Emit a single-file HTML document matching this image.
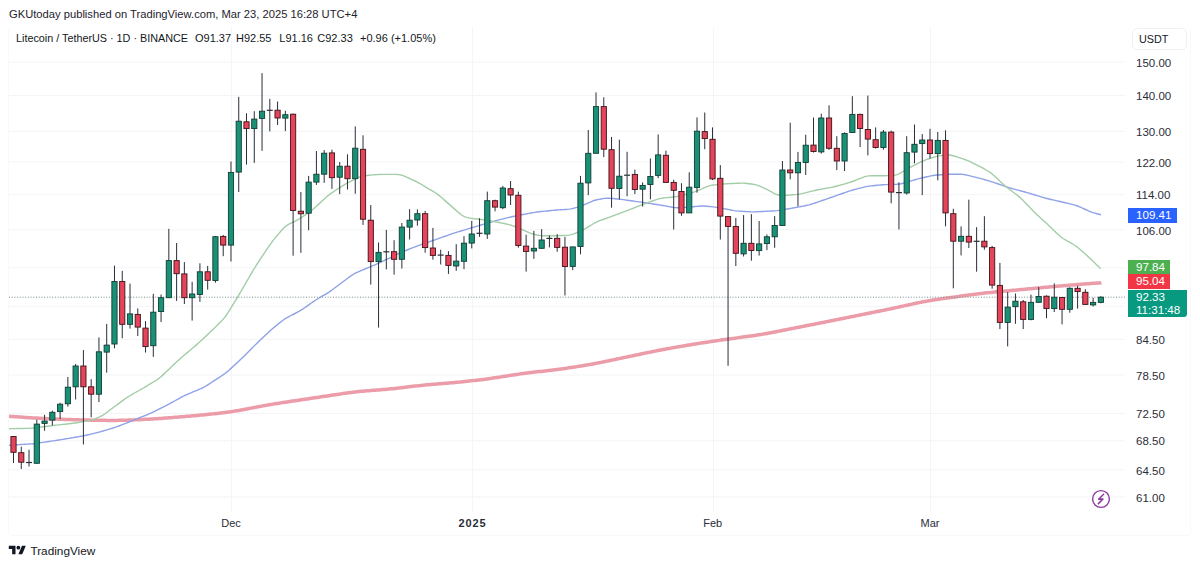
<!DOCTYPE html>
<html><head><meta charset="utf-8"><style>
html,body{margin:0;padding:0;background:#fff;width:1200px;height:566px;overflow:hidden}
body{position:relative;font-family:"Liberation Sans",sans-serif;color:#131722}
.hdr{position:absolute;left:9px;top:8px;font-size:11.2px;white-space:pre;color:#1e222d}
.leg{position:absolute;left:16px;top:31.7px;font-size:11px;white-space:pre;color:#131722}
.frame{position:absolute;left:8px;top:27px;width:1181px;height:507px;border:1px solid #f8f9fa;border-top-color:transparent;border-radius:4px}
.pl{position:absolute;left:1136px;font-size:11.5px;line-height:14px;color:#2a2e39}
.tl{position:absolute;top:516px;font-size:11px;line-height:14px;color:#2a2e39;transform:translateX(-50%)}
.box{position:absolute;left:1128px;color:#fff;font-size:11.6px;line-height:14px;padding-left:8px;box-sizing:border-box}
svg{position:absolute;left:0;top:0}
</style></head><body>
<div class="frame"></div>
<div class="hdr">GKUtoday published on TradingView.com, Mar 23, 2025 16:28 UTC+4</div>
<div class="leg" style="left:16px;font-size:10.8px">Litecoin / TetherUS · 1D · BINANCE</div><div class="leg" style="left:195px">O91.37</div><div class="leg" style="left:236px">H92.55</div><div class="leg" style="left:279.3px">L91.16</div><div class="leg" style="left:317.3px">C92.33</div><div class="leg" style="left:360px">+0.96 (+1.05%)</div>
<svg width="1200" height="566" viewBox="0 0 1200 566">

<line x1="9" y1="62.1" x2="1125" y2="62.1" stroke="#f3f4f6" stroke-width="1"/>
<line x1="9" y1="95.44" x2="1125" y2="95.44" stroke="#f3f4f6" stroke-width="1"/>
<line x1="9" y1="131.25" x2="1125" y2="131.25" stroke="#f3f4f6" stroke-width="1"/>
<line x1="9" y1="161.94" x2="1125" y2="161.94" stroke="#f3f4f6" stroke-width="1"/>
<line x1="9" y1="194.71" x2="1125" y2="194.71" stroke="#f3f4f6" stroke-width="1"/>
<line x1="9" y1="229.87" x2="1125" y2="229.87" stroke="#f3f4f6" stroke-width="1"/>
<line x1="9" y1="267.78" x2="1125" y2="267.78" stroke="#f3f4f6" stroke-width="1"/>
<line x1="9" y1="306.26" x2="1125" y2="306.26" stroke="#f3f4f6" stroke-width="1"/>
<line x1="9" y1="339.4" x2="1125" y2="339.4" stroke="#f3f4f6" stroke-width="1"/>
<line x1="9" y1="374.99" x2="1125" y2="374.99" stroke="#f3f4f6" stroke-width="1"/>
<line x1="9" y1="413.41" x2="1125" y2="413.41" stroke="#f3f4f6" stroke-width="1"/>
<line x1="9" y1="440.84" x2="1125" y2="440.84" stroke="#f3f4f6" stroke-width="1"/>
<line x1="9" y1="469.91" x2="1125" y2="469.91" stroke="#f3f4f6" stroke-width="1"/>
<line x1="9" y1="496.87" x2="1125" y2="496.87" stroke="#f3f4f6" stroke-width="1"/>
<line x1="231.5" y1="27" x2="231.5" y2="512" stroke="#f4f5f7" stroke-width="1"/>
<line x1="472.5" y1="27" x2="472.5" y2="512" stroke="#f4f5f7" stroke-width="1"/>
<line x1="713.5" y1="27" x2="713.5" y2="512" stroke="#f4f5f7" stroke-width="1"/>
<line x1="930.5" y1="27" x2="930.5" y2="512" stroke="#f4f5f7" stroke-width="1"/>
<path d="M9.0,416.30 L11.0,416.44 L13.0,416.57 L15.0,416.71 L17.0,416.84 L19.0,416.98 L21.0,417.11 L23.0,417.24 L25.0,417.38 L27.0,417.51 L29.0,417.64 L31.0,417.76 L33.0,417.89 L35.0,418.01 L37.0,418.12 L39.0,418.24 L41.0,418.34 L43.0,418.45 L45.0,418.55 L47.0,418.64 L49.0,418.73 L51.0,418.82 L53.0,418.91 L55.0,418.99 L57.0,419.07 L59.0,419.16 L61.0,419.24 L63.0,419.32 L65.0,419.39 L67.0,419.47 L69.0,419.54 L71.0,419.62 L73.0,419.68 L75.0,419.75 L77.0,419.81 L79.0,419.87 L81.0,419.93 L83.0,419.98 L85.0,420.03 L87.0,420.07 L89.0,420.11 L91.0,420.15 L93.0,420.18 L95.0,420.22 L97.0,420.25 L99.0,420.28 L101.0,420.31 L103.0,420.33 L105.0,420.36 L107.0,420.38 L109.0,420.39 L111.0,420.40 L113.0,420.40 L115.0,420.40 L117.0,420.38 L119.0,420.36 L121.0,420.32 L123.0,420.28 L125.0,420.22 L127.0,420.16 L129.0,420.09 L131.0,420.01 L133.0,419.92 L135.0,419.83 L137.0,419.74 L139.0,419.64 L141.0,419.54 L143.0,419.44 L145.0,419.34 L147.0,419.24 L149.0,419.13 L151.0,419.02 L153.0,418.90 L155.0,418.79 L157.0,418.66 L159.0,418.54 L161.0,418.40 L163.0,418.27 L165.0,418.12 L167.0,417.98 L169.0,417.83 L171.0,417.67 L173.0,417.51 L175.0,417.35 L177.0,417.19 L179.0,417.03 L181.0,416.86 L183.0,416.70 L185.0,416.53 L187.0,416.36 L189.0,416.19 L191.0,416.02 L193.0,415.84 L195.0,415.66 L197.0,415.48 L199.0,415.29 L201.0,415.10 L203.0,414.91 L205.0,414.71 L207.0,414.51 L209.0,414.30 L211.0,414.09 L213.0,413.88 L215.0,413.66 L217.0,413.44 L219.0,413.21 L221.0,412.98 L223.0,412.74 L225.0,412.49 L227.0,412.23 L229.0,411.96 L231.0,411.68 L233.0,411.38 L235.0,411.07 L237.0,410.74 L239.0,410.40 L241.0,410.04 L243.0,409.68 L245.0,409.30 L247.0,408.92 L249.0,408.54 L251.0,408.15 L253.0,407.76 L255.0,407.37 L257.0,406.99 L259.0,406.61 L261.0,406.23 L263.0,405.86 L265.0,405.50 L267.0,405.15 L269.0,404.80 L271.0,404.46 L273.0,404.13 L275.0,403.81 L277.0,403.49 L279.0,403.18 L281.0,402.87 L283.0,402.56 L285.0,402.26 L287.0,401.96 L289.0,401.65 L291.0,401.35 L293.0,401.05 L295.0,400.75 L297.0,400.45 L299.0,400.15 L301.0,399.85 L303.0,399.55 L305.0,399.25 L307.0,398.95 L309.0,398.65 L311.0,398.35 L313.0,398.05 L315.0,397.75 L317.0,397.45 L319.0,397.15 L321.0,396.85 L323.0,396.55 L325.0,396.25 L327.0,395.95 L329.0,395.65 L331.0,395.35 L333.0,395.05 L335.0,394.76 L337.0,394.46 L339.0,394.17 L341.0,393.88 L343.0,393.59 L345.0,393.30 L347.0,393.02 L349.0,392.75 L351.0,392.49 L353.0,392.24 L355.0,392.00 L357.0,391.77 L359.0,391.55 L361.0,391.35 L363.0,391.16 L365.0,390.98 L367.0,390.81 L369.0,390.65 L371.0,390.49 L373.0,390.34 L375.0,390.19 L377.0,390.04 L379.0,389.89 L381.0,389.74 L383.0,389.58 L385.0,389.41 L387.0,389.24 L389.0,389.06 L391.0,388.86 L393.0,388.66 L395.0,388.45 L397.0,388.23 L399.0,388.01 L401.0,387.77 L403.0,387.54 L405.0,387.30 L407.0,387.06 L409.0,386.81 L411.0,386.57 L413.0,386.34 L415.0,386.10 L417.0,385.88 L419.0,385.65 L421.0,385.44 L423.0,385.23 L425.0,385.04 L427.0,384.85 L429.0,384.66 L431.0,384.49 L433.0,384.32 L435.0,384.15 L437.0,383.99 L439.0,383.83 L441.0,383.67 L443.0,383.51 L445.0,383.36 L447.0,383.19 L449.0,383.03 L451.0,382.86 L453.0,382.68 L455.0,382.50 L457.0,382.32 L459.0,382.12 L461.0,381.92 L463.0,381.72 L465.0,381.51 L467.0,381.29 L469.0,381.07 L471.0,380.85 L473.0,380.62 L475.0,380.39 L477.0,380.16 L479.0,379.92 L481.0,379.68 L483.0,379.43 L485.0,379.18 L487.0,378.92 L489.0,378.65 L491.0,378.37 L493.0,378.09 L495.0,377.80 L497.0,377.50 L499.0,377.19 L501.0,376.89 L503.0,376.57 L505.0,376.26 L507.0,375.95 L509.0,375.63 L511.0,375.32 L513.0,375.01 L515.0,374.71 L517.0,374.41 L519.0,374.12 L521.0,373.83 L523.0,373.56 L525.0,373.29 L527.0,373.03 L529.0,372.78 L531.0,372.54 L533.0,372.30 L535.0,372.07 L537.0,371.84 L539.0,371.61 L541.0,371.39 L543.0,371.17 L545.0,370.94 L547.0,370.71 L549.0,370.48 L551.0,370.24 L553.0,370.00 L555.0,369.75 L557.0,369.49 L559.0,369.23 L561.0,368.96 L563.0,368.69 L565.0,368.41 L567.0,368.12 L569.0,367.83 L571.0,367.53 L573.0,367.23 L575.0,366.93 L577.0,366.62 L579.0,366.31 L581.0,365.99 L583.0,365.67 L585.0,365.33 L587.0,364.99 L589.0,364.64 L591.0,364.28 L593.0,363.91 L595.0,363.53 L597.0,363.15 L599.0,362.75 L601.0,362.35 L603.0,361.95 L605.0,361.54 L607.0,361.12 L609.0,360.71 L611.0,360.29 L613.0,359.87 L615.0,359.45 L617.0,359.03 L619.0,358.61 L621.0,358.20 L623.0,357.78 L625.0,357.36 L627.0,356.94 L629.0,356.52 L631.0,356.10 L633.0,355.68 L635.0,355.26 L637.0,354.84 L639.0,354.42 L641.0,354.00 L643.0,353.58 L645.0,353.16 L647.0,352.75 L649.0,352.34 L651.0,351.93 L653.0,351.52 L655.0,351.12 L657.0,350.73 L659.0,350.34 L661.0,349.95 L663.0,349.57 L665.0,349.20 L667.0,348.83 L669.0,348.47 L671.0,348.11 L673.0,347.75 L675.0,347.40 L677.0,347.05 L679.0,346.70 L681.0,346.36 L683.0,346.01 L685.0,345.67 L687.0,345.34 L689.0,345.00 L691.0,344.67 L693.0,344.35 L695.0,344.02 L697.0,343.70 L699.0,343.39 L701.0,343.08 L703.0,342.77 L705.0,342.46 L707.0,342.16 L709.0,341.86 L711.0,341.56 L713.0,341.26 L715.0,340.96 L717.0,340.67 L719.0,340.38 L721.0,340.09 L723.0,339.80 L725.0,339.52 L727.0,339.24 L729.0,338.96 L731.0,338.69 L733.0,338.42 L735.0,338.15 L737.0,337.88 L739.0,337.62 L741.0,337.35 L743.0,337.09 L745.0,336.82 L747.0,336.55 L749.0,336.27 L751.0,335.99 L753.0,335.71 L755.0,335.41 L757.0,335.10 L759.0,334.79 L761.0,334.46 L763.0,334.12 L765.0,333.77 L767.0,333.42 L769.0,333.05 L771.0,332.67 L773.0,332.29 L775.0,331.91 L777.0,331.52 L779.0,331.13 L781.0,330.73 L783.0,330.34 L785.0,329.94 L787.0,329.55 L789.0,329.15 L791.0,328.76 L793.0,328.36 L795.0,327.97 L797.0,327.57 L799.0,327.17 L801.0,326.78 L803.0,326.38 L805.0,325.99 L807.0,325.59 L809.0,325.20 L811.0,324.80 L813.0,324.41 L815.0,324.01 L817.0,323.61 L819.0,323.22 L821.0,322.82 L823.0,322.42 L825.0,322.02 L827.0,321.63 L829.0,321.23 L831.0,320.83 L833.0,320.43 L835.0,320.03 L837.0,319.62 L839.0,319.22 L841.0,318.82 L843.0,318.42 L845.0,318.02 L847.0,317.62 L849.0,317.21 L851.0,316.81 L853.0,316.41 L855.0,316.01 L857.0,315.60 L859.0,315.20 L861.0,314.80 L863.0,314.40 L865.0,313.99 L867.0,313.59 L869.0,313.19 L871.0,312.79 L873.0,312.38 L875.0,311.98 L877.0,311.57 L879.0,311.17 L881.0,310.76 L883.0,310.35 L885.0,309.94 L887.0,309.53 L889.0,309.11 L891.0,308.69 L893.0,308.27 L895.0,307.84 L897.0,307.41 L899.0,306.98 L901.0,306.54 L903.0,306.10 L905.0,305.66 L907.0,305.22 L909.0,304.78 L911.0,304.34 L913.0,303.91 L915.0,303.48 L917.0,303.05 L919.0,302.64 L921.0,302.24 L923.0,301.84 L925.0,301.47 L927.0,301.10 L929.0,300.75 L931.0,300.41 L933.0,300.09 L935.0,299.78 L937.0,299.48 L939.0,299.18 L941.0,298.89 L943.0,298.61 L945.0,298.33 L947.0,298.05 L949.0,297.78 L951.0,297.50 L953.0,297.22 L955.0,296.94 L957.0,296.66 L959.0,296.37 L961.0,296.09 L963.0,295.80 L965.0,295.52 L967.0,295.24 L969.0,294.96 L971.0,294.69 L973.0,294.42 L975.0,294.17 L977.0,293.92 L979.0,293.68 L981.0,293.45 L983.0,293.23 L985.0,293.02 L987.0,292.82 L989.0,292.62 L991.0,292.43 L993.0,292.24 L995.0,292.05 L997.0,291.86 L999.0,291.67 L1001.0,291.49 L1003.0,291.30 L1005.0,291.11 L1007.0,290.92 L1009.0,290.73 L1011.0,290.54 L1013.0,290.35 L1015.0,290.16 L1017.0,289.97 L1019.0,289.77 L1021.0,289.58 L1023.0,289.39 L1025.0,289.20 L1027.0,289.01 L1029.0,288.82 L1031.0,288.64 L1033.0,288.45 L1035.0,288.27 L1037.0,288.08 L1039.0,287.90 L1041.0,287.72 L1043.0,287.54 L1045.0,287.36 L1047.0,287.18 L1049.0,287.00 L1051.0,286.82 L1053.0,286.64 L1055.0,286.46 L1057.0,286.29 L1059.0,286.11 L1061.0,285.94 L1063.0,285.76 L1065.0,285.59 L1067.0,285.41 L1069.0,285.24 L1071.0,285.07 L1073.0,284.90 L1075.0,284.73 L1077.0,284.57 L1079.0,284.40 L1081.0,284.24 L1083.0,284.09 L1085.0,283.93 L1087.0,283.78 L1089.0,283.63 L1091.0,283.49 L1093.0,283.35 L1095.0,283.22 L1097.0,283.08 L1099.0,282.95 L1101.0,282.83 L1101.3,282.70" fill="none" stroke="#eb9ca8" stroke-width="3.5" stroke-linejoin="round" stroke-linecap="butt"/>
<path d="M9.0,445.30 L11.0,445.16 L13.0,445.01 L15.0,444.87 L17.0,444.73 L19.0,444.60 L21.0,444.48 L23.0,444.36 L25.0,444.24 L27.0,444.12 L29.0,444.00 L31.0,443.87 L33.0,443.71 L35.0,443.50 L37.0,443.24 L39.0,442.96 L41.0,442.66 L43.0,442.37 L45.0,442.07 L47.0,441.78 L49.0,441.48 L51.0,441.18 L53.0,440.89 L55.0,440.59 L57.0,440.29 L59.0,439.98 L61.0,439.66 L63.0,439.33 L65.0,438.99 L67.0,438.66 L69.0,438.32 L71.0,437.98 L73.0,437.65 L75.0,437.31 L77.0,436.98 L79.0,436.64 L81.0,436.29 L83.0,435.92 L85.0,435.51 L87.0,435.05 L89.0,434.57 L91.0,434.08 L93.0,433.59 L95.0,433.10 L97.0,432.60 L99.0,432.10 L101.0,431.56 L103.0,431.00 L105.0,430.40 L107.0,429.80 L109.0,429.20 L111.0,428.60 L113.0,427.99 L115.0,427.37 L117.0,426.71 L119.0,425.98 L121.0,425.21 L123.0,424.41 L125.0,423.61 L127.0,422.81 L129.0,422.01 L131.0,421.20 L133.0,420.40 L135.0,419.60 L137.0,418.80 L139.0,417.99 L141.0,417.19 L143.0,416.39 L145.0,415.59 L147.0,414.78 L149.0,413.95 L151.0,413.07 L153.0,412.13 L155.0,411.15 L157.0,410.15 L159.0,409.15 L161.0,408.15 L163.0,407.15 L165.0,406.14 L167.0,405.11 L169.0,404.05 L171.0,402.96 L173.0,401.86 L175.0,400.76 L177.0,399.66 L179.0,398.56 L181.0,397.47 L183.0,396.43 L185.0,395.45 L187.0,394.54 L189.0,393.68 L191.0,392.83 L193.0,391.97 L195.0,391.13 L197.0,390.28 L199.0,389.42 L201.0,388.54 L203.0,387.59 L205.0,386.52 L207.0,385.32 L209.0,384.05 L211.0,382.75 L213.0,381.45 L215.0,380.15 L217.0,378.85 L219.0,377.55 L221.0,376.25 L223.0,374.91 L225.0,373.49 L227.0,371.92 L229.0,370.19 L231.0,368.38 L233.0,366.54 L235.0,364.69 L237.0,362.84 L239.0,360.98 L241.0,359.09 L243.0,357.15 L245.0,355.17 L247.0,353.17 L249.0,351.16 L251.0,349.14 L253.0,347.13 L255.0,345.13 L257.0,343.14 L259.0,341.20 L261.0,339.29 L263.0,337.42 L265.0,335.55 L267.0,333.69 L269.0,331.84 L271.0,330.04 L273.0,328.30 L275.0,326.63 L277.0,325.00 L279.0,323.37 L281.0,321.76 L283.0,320.20 L285.0,318.79 L287.0,317.58 L289.0,316.51 L291.0,315.50 L293.0,314.50 L295.0,313.50 L297.0,312.47 L299.0,311.38 L301.0,310.18 L303.0,308.87 L305.0,307.49 L307.0,306.10 L309.0,304.69 L311.0,303.29 L313.0,301.90 L315.0,300.54 L317.0,299.23 L319.0,298.01 L321.0,296.84 L323.0,295.68 L325.0,294.53 L327.0,293.34 L329.0,292.07 L331.0,290.69 L333.0,289.22 L335.0,287.73 L337.0,286.23 L339.0,284.74 L341.0,283.24 L343.0,281.74 L345.0,280.24 L347.0,278.74 L349.0,277.25 L351.0,275.81 L353.0,274.49 L355.0,273.36 L357.0,272.40 L359.0,271.53 L361.0,270.68 L363.0,269.84 L365.0,269.00 L367.0,268.16 L369.0,267.32 L371.0,266.47 L373.0,265.63 L375.0,264.78 L377.0,263.92 L379.0,263.02 L381.0,262.09 L383.0,261.14 L385.0,260.19 L387.0,259.23 L389.0,258.27 L391.0,257.31 L393.0,256.35 L395.0,255.39 L397.0,254.43 L399.0,253.47 L401.0,252.53 L403.0,251.63 L405.0,250.80 L407.0,250.00 L409.0,249.23 L411.0,248.46 L413.0,247.69 L415.0,246.92 L417.0,246.16 L419.0,245.41 L421.0,244.67 L423.0,243.96 L425.0,243.26 L427.0,242.57 L429.0,241.87 L431.0,241.18 L433.0,240.48 L435.0,239.79 L437.0,239.09 L439.0,238.38 L441.0,237.67 L443.0,236.96 L445.0,236.25 L447.0,235.54 L449.0,234.83 L451.0,234.13 L453.0,233.45 L455.0,232.81 L457.0,232.20 L459.0,231.59 L461.0,230.99 L463.0,230.40 L465.0,229.80 L467.0,229.20 L469.0,228.60 L471.0,228.00 L473.0,227.40 L475.0,226.80 L477.0,226.20 L479.0,225.61 L481.0,225.01 L483.0,224.41 L485.0,223.82 L487.0,223.24 L489.0,222.67 L491.0,222.11 L493.0,221.55 L495.0,221.00 L497.0,220.45 L499.0,219.89 L501.0,219.35 L503.0,218.83 L505.0,218.34 L507.0,217.88 L509.0,217.44 L511.0,216.99 L513.0,216.55 L515.0,216.11 L517.0,215.67 L519.0,215.25 L521.0,214.85 L523.0,214.47 L525.0,214.10 L527.0,213.74 L529.0,213.38 L531.0,213.02 L533.0,212.67 L535.0,212.33 L537.0,212.03 L539.0,211.78 L541.0,211.56 L543.0,211.35 L545.0,211.15 L547.0,210.95 L549.0,210.74 L551.0,210.54 L553.0,210.36 L555.0,210.20 L557.0,210.06 L559.0,209.92 L561.0,209.79 L563.0,209.66 L565.0,209.53 L567.0,209.37 L569.0,209.16 L571.0,208.84 L573.0,208.42 L575.0,207.94 L577.0,207.42 L579.0,206.83 L581.0,206.14 L583.0,205.33 L585.0,204.46 L587.0,203.57 L589.0,202.68 L591.0,201.80 L593.0,200.96 L595.0,200.26 L597.0,199.73 L599.0,199.33 L601.0,198.98 L603.0,198.65 L605.0,198.38 L607.0,198.24 L609.0,198.26 L611.0,198.40 L613.0,198.57 L615.0,198.75 L617.0,198.94 L619.0,199.14 L621.0,199.37 L623.0,199.63 L625.0,199.91 L627.0,200.19 L629.0,200.47 L631.0,200.76 L633.0,201.04 L635.0,201.32 L637.0,201.61 L639.0,201.89 L641.0,202.18 L643.0,202.46 L645.0,202.76 L647.0,203.05 L649.0,203.35 L651.0,203.65 L653.0,203.95 L655.0,204.25 L657.0,204.56 L659.0,204.87 L661.0,205.20 L663.0,205.54 L665.0,205.90 L667.0,206.26 L669.0,206.62 L671.0,206.97 L673.0,207.32 L675.0,207.60 L677.0,207.76 L679.0,207.76 L681.0,207.66 L683.0,207.51 L685.0,207.35 L687.0,207.19 L689.0,207.04 L691.0,206.88 L693.0,206.71 L695.0,206.54 L697.0,206.37 L699.0,206.19 L701.0,206.05 L703.0,206.00 L705.0,206.06 L707.0,206.23 L709.0,206.45 L711.0,206.67 L713.0,206.90 L715.0,207.14 L717.0,207.39 L719.0,207.70 L721.0,208.05 L723.0,208.43 L725.0,208.82 L727.0,209.22 L729.0,209.61 L731.0,210.01 L733.0,210.37 L735.0,210.68 L737.0,210.91 L739.0,211.08 L741.0,211.23 L743.0,211.37 L745.0,211.52 L747.0,211.66 L749.0,211.78 L751.0,211.87 L753.0,211.88 L755.0,211.83 L757.0,211.74 L759.0,211.65 L761.0,211.55 L763.0,211.46 L765.0,211.36 L767.0,211.27 L769.0,211.17 L771.0,211.07 L773.0,210.97 L775.0,210.84 L777.0,210.65 L779.0,210.39 L781.0,210.07 L783.0,209.74 L785.0,209.40 L787.0,209.06 L789.0,208.72 L791.0,208.38 L793.0,208.03 L795.0,207.65 L797.0,207.27 L799.0,206.87 L801.0,206.48 L803.0,206.08 L805.0,205.69 L807.0,205.27 L809.0,204.81 L811.0,204.27 L813.0,203.65 L815.0,202.98 L817.0,202.30 L819.0,201.61 L821.0,200.92 L823.0,200.24 L825.0,199.55 L827.0,198.86 L829.0,198.18 L831.0,197.49 L833.0,196.79 L835.0,196.10 L837.0,195.39 L839.0,194.69 L841.0,193.98 L843.0,193.27 L845.0,192.57 L847.0,191.87 L849.0,191.20 L851.0,190.58 L853.0,190.00 L855.0,189.45 L857.0,188.91 L859.0,188.37 L861.0,187.84 L863.0,187.31 L865.0,186.82 L867.0,186.41 L869.0,186.12 L871.0,185.89 L873.0,185.69 L875.0,185.50 L877.0,185.31 L879.0,185.12 L881.0,184.94 L883.0,184.78 L885.0,184.67 L887.0,184.59 L889.0,184.53 L891.0,184.47 L893.0,184.41 L895.0,184.34 L897.0,184.25 L899.0,184.07 L901.0,183.74 L903.0,183.26 L905.0,182.70 L907.0,182.10 L909.0,181.51 L911.0,180.91 L913.0,180.31 L915.0,179.73 L917.0,179.18 L919.0,178.67 L921.0,178.19 L923.0,177.72 L925.0,177.25 L927.0,176.78 L929.0,176.32 L931.0,175.88 L933.0,175.51 L935.0,175.25 L937.0,175.07 L939.0,174.93 L941.0,174.79 L943.0,174.66 L945.0,174.53 L947.0,174.41 L949.0,174.30 L951.0,174.24 L953.0,174.21 L955.0,174.20 L957.0,174.20 L959.0,174.21 L961.0,174.25 L963.0,174.41 L965.0,174.71 L967.0,175.14 L969.0,175.63 L971.0,176.12 L973.0,176.62 L975.0,177.13 L977.0,177.62 L979.0,178.13 L981.0,178.64 L983.0,179.17 L985.0,179.74 L987.0,180.34 L989.0,180.95 L991.0,181.57 L993.0,182.20 L995.0,182.84 L997.0,183.52 L999.0,184.22 L1001.0,184.93 L1003.0,185.64 L1005.0,186.35 L1007.0,187.03 L1009.0,187.67 L1011.0,188.25 L1013.0,188.81 L1015.0,189.35 L1017.0,189.88 L1019.0,190.42 L1021.0,190.96 L1023.0,191.50 L1025.0,192.04 L1027.0,192.60 L1029.0,193.18 L1031.0,193.78 L1033.0,194.39 L1035.0,194.99 L1037.0,195.60 L1039.0,196.20 L1041.0,196.81 L1043.0,197.40 L1045.0,197.97 L1047.0,198.49 L1049.0,198.98 L1051.0,199.45 L1053.0,199.91 L1055.0,200.37 L1057.0,200.84 L1059.0,201.30 L1061.0,201.76 L1063.0,202.23 L1065.0,202.70 L1067.0,203.17 L1069.0,203.64 L1071.0,204.12 L1073.0,204.61 L1075.0,205.13 L1077.0,205.75 L1079.0,206.52 L1081.0,207.39 L1083.0,208.32 L1085.0,209.25 L1087.0,210.19 L1089.0,211.09 L1091.0,211.91 L1093.0,212.61 L1095.0,213.20 L1097.0,213.75 L1099.0,214.27 L1101.0,214.80" fill="none" stroke="#8ea2e8" stroke-width="1.4" stroke-linejoin="round"/>
<path d="M9.0,428.70 L11.0,428.66 L13.0,428.63 L15.0,428.59 L17.0,428.55 L19.0,428.52 L21.0,428.48 L23.0,428.44 L25.0,428.40 L27.0,428.36 L29.0,428.29 L31.0,428.17 L33.0,427.99 L35.0,427.76 L37.0,427.51 L39.0,427.26 L41.0,427.01 L43.0,426.76 L45.0,426.51 L47.0,426.26 L49.0,426.02 L51.0,425.78 L53.0,425.55 L55.0,425.32 L57.0,425.09 L59.0,424.87 L61.0,424.65 L63.0,424.42 L65.0,424.20 L67.0,423.97 L69.0,423.75 L71.0,423.52 L73.0,423.29 L75.0,423.03 L77.0,422.73 L79.0,422.40 L81.0,422.04 L83.0,421.68 L85.0,421.32 L87.0,420.95 L89.0,420.57 L91.0,420.12 L93.0,419.54 L95.0,418.82 L97.0,418.02 L99.0,417.15 L101.0,416.18 L103.0,415.05 L105.0,413.72 L107.0,412.27 L109.0,410.78 L111.0,409.28 L113.0,407.79 L115.0,406.31 L117.0,404.83 L119.0,403.35 L121.0,401.87 L123.0,400.40 L125.0,398.94 L127.0,397.54 L129.0,396.24 L131.0,395.04 L133.0,393.89 L135.0,392.76 L137.0,391.64 L139.0,390.51 L141.0,389.38 L143.0,388.24 L145.0,387.07 L147.0,385.88 L149.0,384.67 L151.0,383.46 L153.0,382.25 L155.0,381.03 L157.0,379.75 L159.0,378.32 L161.0,376.67 L163.0,374.86 L165.0,372.97 L167.0,371.06 L169.0,369.15 L171.0,367.25 L173.0,365.34 L175.0,363.44 L177.0,361.57 L179.0,359.75 L181.0,357.99 L183.0,356.28 L185.0,354.58 L187.0,352.89 L189.0,351.20 L191.0,349.51 L193.0,347.81 L195.0,346.11 L197.0,344.38 L199.0,342.59 L201.0,340.75 L203.0,338.88 L205.0,337.00 L207.0,335.12 L209.0,333.23 L211.0,331.34 L213.0,329.42 L215.0,327.47 L217.0,325.49 L219.0,323.50 L221.0,321.48 L223.0,319.37 L225.0,316.99 L227.0,314.24 L229.0,311.18 L231.0,307.97 L233.0,304.71 L235.0,301.39 L237.0,298.05 L239.0,294.69 L241.0,291.30 L243.0,287.89 L245.0,284.44 L247.0,280.97 L249.0,277.50 L251.0,274.04 L253.0,270.63 L255.0,267.34 L257.0,264.19 L259.0,261.14 L261.0,258.13 L263.0,255.13 L265.0,252.12 L267.0,249.12 L269.0,246.16 L271.0,243.30 L273.0,240.62 L275.0,238.12 L277.0,235.72 L279.0,233.36 L281.0,231.03 L283.0,228.79 L285.0,226.83 L287.0,225.30 L289.0,224.14 L291.0,223.17 L293.0,222.25 L295.0,221.29 L297.0,220.22 L299.0,219.03 L301.0,217.74 L303.0,216.41 L305.0,215.09 L307.0,213.75 L309.0,212.38 L311.0,210.91 L313.0,209.29 L315.0,207.53 L317.0,205.70 L319.0,203.86 L321.0,202.01 L323.0,200.16 L325.0,198.32 L327.0,196.54 L329.0,194.88 L331.0,193.41 L333.0,192.06 L335.0,190.75 L337.0,189.46 L339.0,188.16 L341.0,186.87 L343.0,185.59 L345.0,184.35 L347.0,183.20 L349.0,182.12 L351.0,181.10 L353.0,180.10 L355.0,179.10 L357.0,178.11 L359.0,177.20 L361.0,176.47 L363.0,176.00 L365.0,175.72 L367.0,175.51 L369.0,175.31 L371.0,175.12 L373.0,174.92 L375.0,174.74 L377.0,174.58 L379.0,174.47 L381.0,174.42 L383.0,174.40 L385.0,174.40 L387.0,174.40 L389.0,174.40 L391.0,174.40 L393.0,174.40 L395.0,174.40 L397.0,174.44 L399.0,174.58 L401.0,174.95 L403.0,175.59 L405.0,176.42 L407.0,177.32 L409.0,178.24 L411.0,179.15 L413.0,180.07 L415.0,181.00 L417.0,181.99 L419.0,183.06 L421.0,184.22 L423.0,185.42 L425.0,186.64 L427.0,187.85 L429.0,189.04 L431.0,190.20 L433.0,191.32 L435.0,192.51 L437.0,193.85 L439.0,195.40 L441.0,197.09 L443.0,198.84 L445.0,200.60 L447.0,202.36 L449.0,204.12 L451.0,205.88 L453.0,207.64 L455.0,209.40 L457.0,211.16 L459.0,212.90 L461.0,214.53 L463.0,215.87 L465.0,216.80 L467.0,217.39 L469.0,217.83 L471.0,218.22 L473.0,218.56 L475.0,218.83 L477.0,219.06 L479.0,219.27 L481.0,219.49 L483.0,219.73 L485.0,220.02 L487.0,220.34 L489.0,220.68 L491.0,221.02 L493.0,221.37 L495.0,221.72 L497.0,222.09 L499.0,222.47 L501.0,222.87 L503.0,223.28 L505.0,223.69 L507.0,224.11 L509.0,224.59 L511.0,225.15 L513.0,225.80 L515.0,226.51 L517.0,227.24 L519.0,228.02 L521.0,228.88 L523.0,229.82 L525.0,230.80 L527.0,231.76 L529.0,232.65 L531.0,233.40 L533.0,234.01 L535.0,234.54 L537.0,235.01 L539.0,235.40 L541.0,235.65 L543.0,235.76 L545.0,235.80 L547.0,235.80 L549.0,235.80 L551.0,235.79 L553.0,235.78 L555.0,235.74 L557.0,235.69 L559.0,235.63 L561.0,235.57 L563.0,235.51 L565.0,235.44 L567.0,235.34 L569.0,235.11 L571.0,234.68 L573.0,234.05 L575.0,233.30 L577.0,232.51 L579.0,231.71 L581.0,230.87 L583.0,229.94 L585.0,228.87 L587.0,227.69 L589.0,226.47 L591.0,225.23 L593.0,224.01 L595.0,222.85 L597.0,221.81 L599.0,220.95 L601.0,220.19 L603.0,219.47 L605.0,218.77 L607.0,218.06 L609.0,217.34 L611.0,216.62 L613.0,215.88 L615.0,215.14 L617.0,214.40 L619.0,213.66 L621.0,212.92 L623.0,212.17 L625.0,211.42 L627.0,210.66 L629.0,209.88 L631.0,209.09 L633.0,208.30 L635.0,207.50 L637.0,206.70 L639.0,205.91 L641.0,205.12 L643.0,204.36 L645.0,203.61 L647.0,202.90 L649.0,202.19 L651.0,201.48 L653.0,200.77 L655.0,200.07 L657.0,199.40 L659.0,198.81 L661.0,198.36 L663.0,198.05 L665.0,197.83 L667.0,197.63 L669.0,197.44 L671.0,197.25 L673.0,197.04 L675.0,196.81 L677.0,196.49 L679.0,196.08 L681.0,195.61 L683.0,195.11 L685.0,194.60 L687.0,194.09 L689.0,193.58 L691.0,193.04 L693.0,192.43 L695.0,191.70 L697.0,190.89 L699.0,190.04 L701.0,189.18 L703.0,188.32 L705.0,187.46 L707.0,186.64 L709.0,185.93 L711.0,185.40 L713.0,185.06 L715.0,184.83 L717.0,184.63 L719.0,184.44 L721.0,184.25 L723.0,184.06 L725.0,183.88 L727.0,183.73 L729.0,183.61 L731.0,183.52 L733.0,183.43 L735.0,183.35 L737.0,183.27 L739.0,183.19 L741.0,183.13 L743.0,183.15 L745.0,183.28 L747.0,183.48 L749.0,183.72 L751.0,183.98 L753.0,184.25 L755.0,184.60 L757.0,185.11 L759.0,185.82 L761.0,186.67 L763.0,187.58 L765.0,188.51 L767.0,189.47 L769.0,190.51 L771.0,191.63 L773.0,192.76 L775.0,193.79 L777.0,194.54 L779.0,194.95 L781.0,195.11 L783.0,195.18 L785.0,195.21 L787.0,195.18 L789.0,195.09 L791.0,194.94 L793.0,194.78 L795.0,194.61 L797.0,194.42 L799.0,194.18 L801.0,193.85 L803.0,193.42 L805.0,192.94 L807.0,192.44 L809.0,191.94 L811.0,191.43 L813.0,190.94 L815.0,190.45 L817.0,190.00 L819.0,189.60 L821.0,189.23 L823.0,188.86 L825.0,188.50 L827.0,188.14 L829.0,187.77 L831.0,187.40 L833.0,186.98 L835.0,186.51 L837.0,186.00 L839.0,185.46 L841.0,184.93 L843.0,184.39 L845.0,183.84 L847.0,183.29 L849.0,182.69 L851.0,182.02 L853.0,181.28 L855.0,180.49 L857.0,179.69 L859.0,178.89 L861.0,178.09 L863.0,177.31 L865.0,176.62 L867.0,176.13 L869.0,175.89 L871.0,175.81 L873.0,175.80 L875.0,175.80 L877.0,175.80 L879.0,175.80 L881.0,175.79 L883.0,175.77 L885.0,175.72 L887.0,175.66 L889.0,175.59 L891.0,175.51 L893.0,175.40 L895.0,175.16 L897.0,174.65 L899.0,173.79 L901.0,172.69 L903.0,171.50 L905.0,170.30 L907.0,169.14 L909.0,168.03 L911.0,166.98 L913.0,165.97 L915.0,164.97 L917.0,163.98 L919.0,162.98 L921.0,161.99 L923.0,161.04 L925.0,160.17 L927.0,159.41 L929.0,158.74 L931.0,158.11 L933.0,157.48 L935.0,156.87 L937.0,156.32 L939.0,155.89 L941.0,155.59 L943.0,155.36 L945.0,155.18 L947.0,155.04 L949.0,155.04 L951.0,155.26 L953.0,155.71 L955.0,156.29 L957.0,156.92 L959.0,157.56 L961.0,158.19 L963.0,158.84 L965.0,159.52 L967.0,160.30 L969.0,161.19 L971.0,162.16 L973.0,163.15 L975.0,164.15 L977.0,165.15 L979.0,166.15 L981.0,167.17 L983.0,168.23 L985.0,169.35 L987.0,170.52 L989.0,171.76 L991.0,173.12 L993.0,174.68 L995.0,176.43 L997.0,178.31 L999.0,180.23 L1001.0,182.14 L1003.0,184.00 L1005.0,185.77 L1007.0,187.40 L1009.0,188.94 L1011.0,190.45 L1013.0,191.95 L1015.0,193.46 L1017.0,194.99 L1019.0,196.62 L1021.0,198.42 L1023.0,200.37 L1025.0,202.43 L1027.0,204.51 L1029.0,206.60 L1031.0,208.68 L1033.0,210.75 L1035.0,212.77 L1037.0,214.72 L1039.0,216.59 L1041.0,218.42 L1043.0,220.23 L1045.0,222.04 L1047.0,223.85 L1049.0,225.68 L1051.0,227.54 L1053.0,229.45 L1055.0,231.41 L1057.0,233.39 L1059.0,235.30 L1061.0,237.03 L1063.0,238.48 L1065.0,239.71 L1067.0,240.85 L1069.0,241.95 L1071.0,243.07 L1073.0,244.22 L1075.0,245.49 L1077.0,246.94 L1079.0,248.54 L1081.0,250.23 L1083.0,251.95 L1085.0,253.70 L1087.0,255.52 L1089.0,257.41 L1091.0,259.37 L1093.0,261.35 L1095.0,263.33 L1097.0,265.26 L1099.0,267.09 L1100.5,268.80" fill="none" stroke="#a3cda7" stroke-width="1.4" stroke-linejoin="round"/>
<line x1="9" y1="297.2" x2="1125" y2="297.2" stroke="#76908a" stroke-width="1" stroke-dasharray="1,1.7"/>
<line x1="13.50" y1="436.0" x2="13.50" y2="463.0" stroke="#2a2e39" stroke-width="1"/>
<rect x="10.90" y="436.5" width="5.2" height="15.8" fill="#e5445a" stroke="#3d1218" stroke-width="0.9"/>
<line x1="21.27" y1="446.7" x2="21.27" y2="469.0" stroke="#2a2e39" stroke-width="1"/>
<rect x="18.67" y="452.7" width="5.2" height="9.5" fill="#e5445a" stroke="#3d1218" stroke-width="0.9"/>
<line x1="29.03" y1="449.7" x2="29.03" y2="466.5" stroke="#2a2e39" stroke-width="1"/>
<rect x="26.03" y="461.9" width="6" height="1.2" fill="#2a2e39"/>
<line x1="36.80" y1="419.7" x2="36.80" y2="463.3" stroke="#2a2e39" stroke-width="1"/>
<rect x="34.20" y="424.1" width="5.2" height="39.2" fill="#1a9176" stroke="#0f3d33" stroke-width="0.9"/>
<line x1="44.57" y1="414.8" x2="44.57" y2="430.8" stroke="#2a2e39" stroke-width="1"/>
<rect x="41.97" y="421.1" width="5.2" height="2.3" fill="#1a9176" stroke="#0f3d33" stroke-width="0.9"/>
<line x1="52.34" y1="410.6" x2="52.34" y2="425.4" stroke="#2a2e39" stroke-width="1"/>
<rect x="49.73" y="412.3" width="5.2" height="7.8" fill="#1a9176" stroke="#0f3d33" stroke-width="0.9"/>
<line x1="60.10" y1="402.7" x2="60.10" y2="419.0" stroke="#2a2e39" stroke-width="1"/>
<rect x="57.50" y="404.2" width="5.2" height="7.4" fill="#1a9176" stroke="#0f3d33" stroke-width="0.9"/>
<line x1="67.87" y1="377.0" x2="67.87" y2="406.7" stroke="#2a2e39" stroke-width="1"/>
<rect x="65.27" y="387.2" width="5.2" height="16.6" fill="#1a9176" stroke="#0f3d33" stroke-width="0.9"/>
<line x1="75.64" y1="364.0" x2="75.64" y2="399.5" stroke="#2a2e39" stroke-width="1"/>
<rect x="73.04" y="366.0" width="5.2" height="20.8" fill="#1a9176" stroke="#0f3d33" stroke-width="0.9"/>
<line x1="83.40" y1="350.1" x2="83.40" y2="444.5" stroke="#2a2e39" stroke-width="1"/>
<rect x="80.80" y="366.0" width="5.2" height="20.8" fill="#e5445a" stroke="#3d1218" stroke-width="0.9"/>
<line x1="91.17" y1="379.2" x2="91.17" y2="417.3" stroke="#2a2e39" stroke-width="1"/>
<rect x="88.57" y="386.8" width="5.2" height="7.4" fill="#e5445a" stroke="#3d1218" stroke-width="0.9"/>
<line x1="98.94" y1="337.4" x2="98.94" y2="402.1" stroke="#2a2e39" stroke-width="1"/>
<rect x="96.34" y="351.8" width="5.2" height="42.4" fill="#1a9176" stroke="#0f3d33" stroke-width="0.9"/>
<line x1="106.70" y1="323.9" x2="106.70" y2="372.7" stroke="#2a2e39" stroke-width="1"/>
<rect x="104.10" y="345.1" width="5.2" height="7.0" fill="#1a9176" stroke="#0f3d33" stroke-width="0.9"/>
<line x1="114.47" y1="265.6" x2="114.47" y2="348.3" stroke="#2a2e39" stroke-width="1"/>
<rect x="111.87" y="281.5" width="5.2" height="62.5" fill="#1a9176" stroke="#0f3d33" stroke-width="0.9"/>
<line x1="122.24" y1="270.9" x2="122.24" y2="338.3" stroke="#2a2e39" stroke-width="1"/>
<rect x="119.64" y="281.5" width="5.2" height="42.8" fill="#e5445a" stroke="#3d1218" stroke-width="0.9"/>
<line x1="130.00" y1="283.6" x2="130.00" y2="328.6" stroke="#2a2e39" stroke-width="1"/>
<rect x="127.41" y="313.9" width="5.2" height="10.4" fill="#1a9176" stroke="#0f3d33" stroke-width="0.9"/>
<line x1="137.77" y1="308.4" x2="137.77" y2="336.0" stroke="#2a2e39" stroke-width="1"/>
<rect x="135.17" y="314.4" width="5.2" height="12.7" fill="#e5445a" stroke="#3d1218" stroke-width="0.9"/>
<line x1="145.54" y1="321.1" x2="145.54" y2="352.5" stroke="#2a2e39" stroke-width="1"/>
<rect x="142.94" y="328.1" width="5.2" height="18.5" fill="#e5445a" stroke="#3d1218" stroke-width="0.9"/>
<line x1="153.31" y1="293.8" x2="153.31" y2="356.8" stroke="#2a2e39" stroke-width="1"/>
<rect x="150.71" y="312.2" width="5.2" height="33.5" fill="#1a9176" stroke="#0f3d33" stroke-width="0.9"/>
<line x1="161.07" y1="294.5" x2="161.07" y2="322.1" stroke="#2a2e39" stroke-width="1"/>
<rect x="158.47" y="297.7" width="5.2" height="13.8" fill="#1a9176" stroke="#0f3d33" stroke-width="0.9"/>
<line x1="168.84" y1="228.8" x2="168.84" y2="298.1" stroke="#2a2e39" stroke-width="1"/>
<rect x="166.24" y="260.6" width="5.2" height="37.1" fill="#1a9176" stroke="#0f3d33" stroke-width="0.9"/>
<line x1="176.61" y1="243.0" x2="176.61" y2="300.9" stroke="#2a2e39" stroke-width="1"/>
<rect x="174.01" y="260.6" width="5.2" height="13.1" fill="#e5445a" stroke="#3d1218" stroke-width="0.9"/>
<line x1="184.37" y1="262.1" x2="184.37" y2="304.0" stroke="#2a2e39" stroke-width="1"/>
<rect x="181.77" y="273.9" width="5.2" height="23.8" fill="#e5445a" stroke="#3d1218" stroke-width="0.9"/>
<line x1="192.14" y1="281.8" x2="192.14" y2="320.6" stroke="#2a2e39" stroke-width="1"/>
<rect x="189.54" y="294.0" width="5.2" height="3.7" fill="#1a9176" stroke="#0f3d33" stroke-width="0.9"/>
<line x1="199.91" y1="263.3" x2="199.91" y2="301.9" stroke="#2a2e39" stroke-width="1"/>
<rect x="197.31" y="271.8" width="5.2" height="22.7" fill="#1a9176" stroke="#0f3d33" stroke-width="0.9"/>
<line x1="207.68" y1="265.9" x2="207.68" y2="289.6" stroke="#2a2e39" stroke-width="1"/>
<rect x="205.08" y="271.8" width="5.2" height="8.5" fill="#e5445a" stroke="#3d1218" stroke-width="0.9"/>
<line x1="215.44" y1="236.0" x2="215.44" y2="282.7" stroke="#2a2e39" stroke-width="1"/>
<rect x="212.84" y="236.7" width="5.2" height="43.8" fill="#1a9176" stroke="#0f3d33" stroke-width="0.9"/>
<line x1="223.21" y1="235.0" x2="223.21" y2="256.2" stroke="#2a2e39" stroke-width="1"/>
<rect x="220.61" y="236.4" width="5.2" height="8.7" fill="#e5445a" stroke="#3d1218" stroke-width="0.9"/>
<line x1="230.98" y1="161.5" x2="230.98" y2="261.5" stroke="#2a2e39" stroke-width="1"/>
<rect x="228.38" y="172.4" width="5.2" height="72.7" fill="#1a9176" stroke="#0f3d33" stroke-width="0.9"/>
<line x1="238.74" y1="96.8" x2="238.74" y2="192.0" stroke="#2a2e39" stroke-width="1"/>
<rect x="236.14" y="121.2" width="5.2" height="50.9" fill="#1a9176" stroke="#0f3d33" stroke-width="0.9"/>
<line x1="246.51" y1="113.3" x2="246.51" y2="164.6" stroke="#2a2e39" stroke-width="1"/>
<rect x="243.91" y="121.8" width="5.2" height="6.8" fill="#e5445a" stroke="#3d1218" stroke-width="0.9"/>
<line x1="254.28" y1="111.2" x2="254.28" y2="162.9" stroke="#2a2e39" stroke-width="1"/>
<rect x="251.68" y="119.1" width="5.2" height="9.5" fill="#1a9176" stroke="#0f3d33" stroke-width="0.9"/>
<line x1="262.04" y1="73.1" x2="262.04" y2="150.9" stroke="#2a2e39" stroke-width="1"/>
<rect x="259.44" y="111.2" width="5.2" height="7.2" fill="#1a9176" stroke="#0f3d33" stroke-width="0.9"/>
<line x1="269.81" y1="98.9" x2="269.81" y2="131.4" stroke="#2a2e39" stroke-width="1"/>
<rect x="266.81" y="109.7" width="6" height="1.2" fill="#2a2e39"/>
<line x1="277.58" y1="101.5" x2="277.58" y2="125.0" stroke="#2a2e39" stroke-width="1"/>
<rect x="274.98" y="110.2" width="5.2" height="7.8" fill="#e5445a" stroke="#3d1218" stroke-width="0.9"/>
<line x1="285.35" y1="110.8" x2="285.35" y2="131.1" stroke="#2a2e39" stroke-width="1"/>
<rect x="282.75" y="114.7" width="5.2" height="3.4" fill="#1a9176" stroke="#0f3d33" stroke-width="0.9"/>
<line x1="293.11" y1="113.6" x2="293.11" y2="255.7" stroke="#2a2e39" stroke-width="1"/>
<rect x="290.51" y="114.2" width="5.2" height="96.2" fill="#e5445a" stroke="#3d1218" stroke-width="0.9"/>
<line x1="300.88" y1="192.0" x2="300.88" y2="252.8" stroke="#2a2e39" stroke-width="1"/>
<rect x="298.28" y="211.2" width="5.2" height="2.6" fill="#e5445a" stroke="#3d1218" stroke-width="0.9"/>
<line x1="308.65" y1="175.9" x2="308.65" y2="230.2" stroke="#2a2e39" stroke-width="1"/>
<rect x="306.05" y="182.1" width="5.2" height="31.1" fill="#1a9176" stroke="#0f3d33" stroke-width="0.9"/>
<line x1="316.41" y1="151.0" x2="316.41" y2="184.9" stroke="#2a2e39" stroke-width="1"/>
<rect x="313.81" y="174.2" width="5.2" height="7.9" fill="#1a9176" stroke="#0f3d33" stroke-width="0.9"/>
<line x1="324.18" y1="150.1" x2="324.18" y2="182.9" stroke="#2a2e39" stroke-width="1"/>
<rect x="321.58" y="153.2" width="5.2" height="21.0" fill="#1a9176" stroke="#0f3d33" stroke-width="0.9"/>
<line x1="331.95" y1="149.7" x2="331.95" y2="188.9" stroke="#2a2e39" stroke-width="1"/>
<rect x="329.35" y="152.9" width="5.2" height="24.8" fill="#e5445a" stroke="#3d1218" stroke-width="0.9"/>
<line x1="339.71" y1="162.0" x2="339.71" y2="194.2" stroke="#2a2e39" stroke-width="1"/>
<rect x="337.11" y="166.2" width="5.2" height="11.0" fill="#1a9176" stroke="#0f3d33" stroke-width="0.9"/>
<line x1="347.48" y1="154.3" x2="347.48" y2="189.5" stroke="#2a2e39" stroke-width="1"/>
<rect x="344.88" y="166.2" width="5.2" height="12.5" fill="#e5445a" stroke="#3d1218" stroke-width="0.9"/>
<line x1="355.25" y1="126.4" x2="355.25" y2="193.8" stroke="#2a2e39" stroke-width="1"/>
<rect x="352.65" y="148.2" width="5.2" height="30.5" fill="#1a9176" stroke="#0f3d33" stroke-width="0.9"/>
<line x1="363.02" y1="135.3" x2="363.02" y2="224.9" stroke="#2a2e39" stroke-width="1"/>
<rect x="360.42" y="149.3" width="5.2" height="69.9" fill="#e5445a" stroke="#3d1218" stroke-width="0.9"/>
<line x1="370.78" y1="205.0" x2="370.78" y2="284.6" stroke="#2a2e39" stroke-width="1"/>
<rect x="368.18" y="220.2" width="5.2" height="41.4" fill="#e5445a" stroke="#3d1218" stroke-width="0.9"/>
<line x1="378.55" y1="242.5" x2="378.55" y2="327.6" stroke="#2a2e39" stroke-width="1"/>
<rect x="375.95" y="252.4" width="5.2" height="9.2" fill="#1a9176" stroke="#0f3d33" stroke-width="0.9"/>
<line x1="386.32" y1="229.9" x2="386.32" y2="269.4" stroke="#2a2e39" stroke-width="1"/>
<rect x="383.32" y="251.2" width="6" height="1.2" fill="#2a2e39"/>
<line x1="394.08" y1="240.2" x2="394.08" y2="274.7" stroke="#2a2e39" stroke-width="1"/>
<rect x="391.48" y="251.7" width="5.2" height="7.6" fill="#e5445a" stroke="#3d1218" stroke-width="0.9"/>
<line x1="401.85" y1="223.0" x2="401.85" y2="268.5" stroke="#2a2e39" stroke-width="1"/>
<rect x="399.25" y="227.1" width="5.2" height="32.2" fill="#1a9176" stroke="#0f3d33" stroke-width="0.9"/>
<line x1="409.62" y1="209.2" x2="409.62" y2="239.5" stroke="#2a2e39" stroke-width="1"/>
<rect x="407.02" y="220.2" width="5.2" height="6.9" fill="#1a9176" stroke="#0f3d33" stroke-width="0.9"/>
<line x1="417.38" y1="209.4" x2="417.38" y2="225.7" stroke="#2a2e39" stroke-width="1"/>
<rect x="414.78" y="213.7" width="5.2" height="6.3" fill="#1a9176" stroke="#0f3d33" stroke-width="0.9"/>
<line x1="425.15" y1="210.9" x2="425.15" y2="252.7" stroke="#2a2e39" stroke-width="1"/>
<rect x="422.55" y="213.7" width="5.2" height="33.9" fill="#e5445a" stroke="#3d1218" stroke-width="0.9"/>
<line x1="432.92" y1="227.9" x2="432.92" y2="259.7" stroke="#2a2e39" stroke-width="1"/>
<rect x="430.32" y="248.0" width="5.2" height="7.4" fill="#e5445a" stroke="#3d1218" stroke-width="0.9"/>
<line x1="440.69" y1="249.7" x2="440.69" y2="264.5" stroke="#2a2e39" stroke-width="1"/>
<rect x="437.69" y="254.5" width="6" height="1.2" fill="#2a2e39"/>
<line x1="448.45" y1="251.2" x2="448.45" y2="273.9" stroke="#2a2e39" stroke-width="1"/>
<rect x="445.85" y="255.4" width="5.2" height="10.0" fill="#e5445a" stroke="#3d1218" stroke-width="0.9"/>
<line x1="456.22" y1="244.2" x2="456.22" y2="270.9" stroke="#2a2e39" stroke-width="1"/>
<rect x="453.62" y="261.1" width="5.2" height="4.9" fill="#1a9176" stroke="#0f3d33" stroke-width="0.9"/>
<line x1="463.99" y1="236.2" x2="463.99" y2="269.2" stroke="#2a2e39" stroke-width="1"/>
<rect x="461.39" y="243.2" width="5.2" height="18.1" fill="#1a9176" stroke="#0f3d33" stroke-width="0.9"/>
<line x1="471.75" y1="220.9" x2="471.75" y2="248.4" stroke="#2a2e39" stroke-width="1"/>
<rect x="469.15" y="234.0" width="5.2" height="9.1" fill="#1a9176" stroke="#0f3d33" stroke-width="0.9"/>
<line x1="479.52" y1="218.3" x2="479.52" y2="236.8" stroke="#2a2e39" stroke-width="1"/>
<rect x="476.52" y="232.7" width="6" height="1.2" fill="#2a2e39"/>
<line x1="487.29" y1="191.6" x2="487.29" y2="238.9" stroke="#2a2e39" stroke-width="1"/>
<rect x="484.69" y="200.7" width="5.2" height="33.3" fill="#1a9176" stroke="#0f3d33" stroke-width="0.9"/>
<line x1="495.05" y1="199.7" x2="495.05" y2="211.3" stroke="#2a2e39" stroke-width="1"/>
<rect x="492.45" y="200.7" width="5.2" height="6.4" fill="#e5445a" stroke="#3d1218" stroke-width="0.9"/>
<line x1="502.82" y1="185.9" x2="502.82" y2="209.2" stroke="#2a2e39" stroke-width="1"/>
<rect x="500.22" y="188.0" width="5.2" height="19.7" fill="#1a9176" stroke="#0f3d33" stroke-width="0.9"/>
<line x1="510.59" y1="181.0" x2="510.59" y2="205.0" stroke="#2a2e39" stroke-width="1"/>
<rect x="507.99" y="188.7" width="5.2" height="6.3" fill="#e5445a" stroke="#3d1218" stroke-width="0.9"/>
<line x1="518.36" y1="191.7" x2="518.36" y2="247.7" stroke="#2a2e39" stroke-width="1"/>
<rect x="515.75" y="195.3" width="5.2" height="50.2" fill="#e5445a" stroke="#3d1218" stroke-width="0.9"/>
<line x1="526.12" y1="234.7" x2="526.12" y2="271.6" stroke="#2a2e39" stroke-width="1"/>
<rect x="523.52" y="246.1" width="5.2" height="5.3" fill="#e5445a" stroke="#3d1218" stroke-width="0.9"/>
<line x1="533.89" y1="230.9" x2="533.89" y2="258.9" stroke="#2a2e39" stroke-width="1"/>
<rect x="531.29" y="248.3" width="5.2" height="2.7" fill="#1a9176" stroke="#0f3d33" stroke-width="0.9"/>
<line x1="541.66" y1="229.2" x2="541.66" y2="248.9" stroke="#2a2e39" stroke-width="1"/>
<rect x="539.06" y="240.0" width="5.2" height="8.3" fill="#1a9176" stroke="#0f3d33" stroke-width="0.9"/>
<line x1="549.42" y1="235.5" x2="549.42" y2="247.4" stroke="#2a2e39" stroke-width="1"/>
<rect x="546.42" y="237.8" width="6" height="1.2" fill="#2a2e39"/>
<line x1="557.19" y1="234.1" x2="557.19" y2="251.7" stroke="#2a2e39" stroke-width="1"/>
<rect x="554.59" y="238.3" width="5.2" height="9.1" fill="#e5445a" stroke="#3d1218" stroke-width="0.9"/>
<line x1="564.96" y1="237.0" x2="564.96" y2="295.5" stroke="#2a2e39" stroke-width="1"/>
<rect x="562.36" y="247.2" width="5.2" height="19.3" fill="#e5445a" stroke="#3d1218" stroke-width="0.9"/>
<line x1="572.72" y1="246.9" x2="572.72" y2="270.2" stroke="#2a2e39" stroke-width="1"/>
<rect x="570.12" y="246.9" width="5.2" height="19.5" fill="#1a9176" stroke="#0f3d33" stroke-width="0.9"/>
<line x1="580.49" y1="175.9" x2="580.49" y2="254.3" stroke="#2a2e39" stroke-width="1"/>
<rect x="577.89" y="183.2" width="5.2" height="63.3" fill="#1a9176" stroke="#0f3d33" stroke-width="0.9"/>
<line x1="588.26" y1="130.0" x2="588.26" y2="195.2" stroke="#2a2e39" stroke-width="1"/>
<rect x="585.66" y="153.3" width="5.2" height="29.6" fill="#1a9176" stroke="#0f3d33" stroke-width="0.9"/>
<line x1="596.02" y1="92.4" x2="596.02" y2="153.3" stroke="#2a2e39" stroke-width="1"/>
<rect x="593.42" y="106.6" width="5.2" height="46.7" fill="#1a9176" stroke="#0f3d33" stroke-width="0.9"/>
<line x1="603.79" y1="97.3" x2="603.79" y2="157.1" stroke="#2a2e39" stroke-width="1"/>
<rect x="601.19" y="106.6" width="5.2" height="42.6" fill="#e5445a" stroke="#3d1218" stroke-width="0.9"/>
<line x1="611.56" y1="136.9" x2="611.56" y2="207.7" stroke="#2a2e39" stroke-width="1"/>
<rect x="608.96" y="149.7" width="5.2" height="38.6" fill="#e5445a" stroke="#3d1218" stroke-width="0.9"/>
<line x1="619.33" y1="139.7" x2="619.33" y2="199.5" stroke="#2a2e39" stroke-width="1"/>
<rect x="616.73" y="176.2" width="5.2" height="12.3" fill="#1a9176" stroke="#0f3d33" stroke-width="0.9"/>
<line x1="627.09" y1="151.8" x2="627.09" y2="196.3" stroke="#2a2e39" stroke-width="1"/>
<rect x="624.09" y="174.6" width="6" height="1.2" fill="#2a2e39"/>
<line x1="634.86" y1="169.7" x2="634.86" y2="194.0" stroke="#2a2e39" stroke-width="1"/>
<rect x="632.26" y="174.4" width="5.2" height="15.1" fill="#e5445a" stroke="#3d1218" stroke-width="0.9"/>
<line x1="642.63" y1="182.4" x2="642.63" y2="206.6" stroke="#2a2e39" stroke-width="1"/>
<rect x="640.03" y="185.4" width="5.2" height="3.8" fill="#1a9176" stroke="#0f3d33" stroke-width="0.9"/>
<line x1="650.39" y1="158.5" x2="650.39" y2="199.4" stroke="#2a2e39" stroke-width="1"/>
<rect x="647.79" y="176.5" width="5.2" height="8.0" fill="#1a9176" stroke="#0f3d33" stroke-width="0.9"/>
<line x1="658.16" y1="134.5" x2="658.16" y2="178.2" stroke="#2a2e39" stroke-width="1"/>
<rect x="655.56" y="154.9" width="5.2" height="20.5" fill="#1a9176" stroke="#0f3d33" stroke-width="0.9"/>
<line x1="665.93" y1="150.6" x2="665.93" y2="182.8" stroke="#2a2e39" stroke-width="1"/>
<rect x="663.33" y="155.3" width="5.2" height="27.1" fill="#e5445a" stroke="#3d1218" stroke-width="0.9"/>
<line x1="673.70" y1="179.7" x2="673.70" y2="229.5" stroke="#2a2e39" stroke-width="1"/>
<rect x="671.10" y="182.4" width="5.2" height="7.9" fill="#e5445a" stroke="#3d1218" stroke-width="0.9"/>
<line x1="681.46" y1="183.2" x2="681.46" y2="215.8" stroke="#2a2e39" stroke-width="1"/>
<rect x="678.86" y="191.5" width="5.2" height="21.4" fill="#e5445a" stroke="#3d1218" stroke-width="0.9"/>
<line x1="689.23" y1="172.3" x2="689.23" y2="212.9" stroke="#2a2e39" stroke-width="1"/>
<rect x="686.63" y="187.2" width="5.2" height="25.7" fill="#1a9176" stroke="#0f3d33" stroke-width="0.9"/>
<line x1="697.00" y1="117.4" x2="697.00" y2="192.7" stroke="#2a2e39" stroke-width="1"/>
<rect x="694.40" y="131.2" width="5.2" height="56.2" fill="#1a9176" stroke="#0f3d33" stroke-width="0.9"/>
<line x1="704.76" y1="112.5" x2="704.76" y2="149.2" stroke="#2a2e39" stroke-width="1"/>
<rect x="702.16" y="131.6" width="5.2" height="7.0" fill="#e5445a" stroke="#3d1218" stroke-width="0.9"/>
<line x1="712.53" y1="127.4" x2="712.53" y2="180.0" stroke="#2a2e39" stroke-width="1"/>
<rect x="709.93" y="139.3" width="5.2" height="39.6" fill="#e5445a" stroke="#3d1218" stroke-width="0.9"/>
<line x1="720.30" y1="165.1" x2="720.30" y2="239.5" stroke="#2a2e39" stroke-width="1"/>
<rect x="717.70" y="178.3" width="5.2" height="37.8" fill="#e5445a" stroke="#3d1218" stroke-width="0.9"/>
<line x1="728.06" y1="216.0" x2="728.06" y2="365.8" stroke="#2a2e39" stroke-width="1"/>
<rect x="725.46" y="216.6" width="5.2" height="9.8" fill="#e5445a" stroke="#3d1218" stroke-width="0.9"/>
<line x1="735.83" y1="217.9" x2="735.83" y2="266.0" stroke="#2a2e39" stroke-width="1"/>
<rect x="733.23" y="226.4" width="5.2" height="26.9" fill="#e5445a" stroke="#3d1218" stroke-width="0.9"/>
<line x1="743.60" y1="215.1" x2="743.60" y2="256.5" stroke="#2a2e39" stroke-width="1"/>
<rect x="741.00" y="243.3" width="5.2" height="10.6" fill="#1a9176" stroke="#0f3d33" stroke-width="0.9"/>
<line x1="751.37" y1="214.1" x2="751.37" y2="260.7" stroke="#2a2e39" stroke-width="1"/>
<rect x="748.76" y="243.3" width="5.2" height="7.2" fill="#e5445a" stroke="#3d1218" stroke-width="0.9"/>
<line x1="759.13" y1="221.0" x2="759.13" y2="255.6" stroke="#2a2e39" stroke-width="1"/>
<rect x="756.53" y="243.9" width="5.2" height="6.7" fill="#1a9176" stroke="#0f3d33" stroke-width="0.9"/>
<line x1="766.90" y1="234.5" x2="766.90" y2="250.1" stroke="#2a2e39" stroke-width="1"/>
<rect x="764.30" y="236.8" width="5.2" height="6.8" fill="#1a9176" stroke="#0f3d33" stroke-width="0.9"/>
<line x1="774.67" y1="216.1" x2="774.67" y2="247.8" stroke="#2a2e39" stroke-width="1"/>
<rect x="772.07" y="225.5" width="5.2" height="11.3" fill="#1a9176" stroke="#0f3d33" stroke-width="0.9"/>
<line x1="782.43" y1="161.0" x2="782.43" y2="225.5" stroke="#2a2e39" stroke-width="1"/>
<rect x="779.83" y="170.0" width="5.2" height="55.5" fill="#1a9176" stroke="#0f3d33" stroke-width="0.9"/>
<line x1="790.20" y1="122.7" x2="790.20" y2="179.3" stroke="#2a2e39" stroke-width="1"/>
<rect x="787.60" y="170.0" width="5.2" height="2.8" fill="#e5445a" stroke="#3d1218" stroke-width="0.9"/>
<line x1="797.97" y1="151.9" x2="797.97" y2="206.2" stroke="#2a2e39" stroke-width="1"/>
<rect x="795.37" y="162.4" width="5.2" height="10.4" fill="#1a9176" stroke="#0f3d33" stroke-width="0.9"/>
<line x1="805.73" y1="134.7" x2="805.73" y2="175.0" stroke="#2a2e39" stroke-width="1"/>
<rect x="803.13" y="145.2" width="5.2" height="17.3" fill="#1a9176" stroke="#0f3d33" stroke-width="0.9"/>
<line x1="813.50" y1="117.6" x2="813.50" y2="152.5" stroke="#2a2e39" stroke-width="1"/>
<rect x="810.90" y="145.1" width="5.2" height="6.4" fill="#e5445a" stroke="#3d1218" stroke-width="0.9"/>
<line x1="821.27" y1="113.7" x2="821.27" y2="153.6" stroke="#2a2e39" stroke-width="1"/>
<rect x="818.67" y="118.0" width="5.2" height="33.9" fill="#1a9176" stroke="#0f3d33" stroke-width="0.9"/>
<line x1="829.04" y1="105.3" x2="829.04" y2="149.8" stroke="#2a2e39" stroke-width="1"/>
<rect x="826.44" y="118.0" width="5.2" height="30.3" fill="#e5445a" stroke="#3d1218" stroke-width="0.9"/>
<line x1="836.80" y1="136.2" x2="836.80" y2="170.1" stroke="#2a2e39" stroke-width="1"/>
<rect x="834.20" y="148.3" width="5.2" height="12.7" fill="#e5445a" stroke="#3d1218" stroke-width="0.9"/>
<line x1="844.57" y1="132.4" x2="844.57" y2="171.0" stroke="#2a2e39" stroke-width="1"/>
<rect x="841.97" y="133.5" width="5.2" height="27.5" fill="#1a9176" stroke="#0f3d33" stroke-width="0.9"/>
<line x1="852.34" y1="96.2" x2="852.34" y2="132.5" stroke="#2a2e39" stroke-width="1"/>
<rect x="849.74" y="114.4" width="5.2" height="18.1" fill="#1a9176" stroke="#0f3d33" stroke-width="0.9"/>
<line x1="860.10" y1="113.6" x2="860.10" y2="147.0" stroke="#2a2e39" stroke-width="1"/>
<rect x="857.50" y="114.4" width="5.2" height="14.1" fill="#e5445a" stroke="#3d1218" stroke-width="0.9"/>
<line x1="867.87" y1="95.6" x2="867.87" y2="155.4" stroke="#2a2e39" stroke-width="1"/>
<rect x="865.27" y="129.5" width="5.2" height="9.6" fill="#e5445a" stroke="#3d1218" stroke-width="0.9"/>
<line x1="875.64" y1="127.4" x2="875.64" y2="148.6" stroke="#2a2e39" stroke-width="1"/>
<rect x="873.04" y="139.7" width="5.2" height="7.8" fill="#e5445a" stroke="#3d1218" stroke-width="0.9"/>
<line x1="883.40" y1="130.0" x2="883.40" y2="149.7" stroke="#2a2e39" stroke-width="1"/>
<rect x="880.80" y="132.1" width="5.2" height="15.4" fill="#1a9176" stroke="#0f3d33" stroke-width="0.9"/>
<line x1="891.17" y1="130.6" x2="891.17" y2="203.3" stroke="#2a2e39" stroke-width="1"/>
<rect x="888.57" y="132.1" width="5.2" height="60.0" fill="#e5445a" stroke="#3d1218" stroke-width="0.9"/>
<line x1="898.94" y1="182.4" x2="898.94" y2="229.5" stroke="#2a2e39" stroke-width="1"/>
<rect x="895.94" y="192.0" width="6" height="1.2" fill="#2a2e39"/>
<line x1="906.71" y1="136.2" x2="906.71" y2="194.5" stroke="#2a2e39" stroke-width="1"/>
<rect x="904.11" y="152.7" width="5.2" height="40.3" fill="#1a9176" stroke="#0f3d33" stroke-width="0.9"/>
<line x1="914.47" y1="124.5" x2="914.47" y2="163.3" stroke="#2a2e39" stroke-width="1"/>
<rect x="911.87" y="144.3" width="5.2" height="7.8" fill="#1a9176" stroke="#0f3d33" stroke-width="0.9"/>
<line x1="922.24" y1="134.1" x2="922.24" y2="195.1" stroke="#2a2e39" stroke-width="1"/>
<rect x="919.64" y="140.0" width="5.2" height="3.6" fill="#1a9176" stroke="#0f3d33" stroke-width="0.9"/>
<line x1="930.01" y1="128.8" x2="930.01" y2="158.5" stroke="#2a2e39" stroke-width="1"/>
<rect x="927.41" y="140.0" width="5.2" height="13.6" fill="#e5445a" stroke="#3d1218" stroke-width="0.9"/>
<line x1="937.77" y1="132.0" x2="937.77" y2="180.3" stroke="#2a2e39" stroke-width="1"/>
<rect x="935.17" y="140.4" width="5.2" height="13.2" fill="#1a9176" stroke="#0f3d33" stroke-width="0.9"/>
<line x1="945.54" y1="130.3" x2="945.54" y2="226.3" stroke="#2a2e39" stroke-width="1"/>
<rect x="942.94" y="140.4" width="5.2" height="72.5" fill="#e5445a" stroke="#3d1218" stroke-width="0.9"/>
<line x1="953.31" y1="208.8" x2="953.31" y2="288.3" stroke="#2a2e39" stroke-width="1"/>
<rect x="950.71" y="213.7" width="5.2" height="27.5" fill="#e5445a" stroke="#3d1218" stroke-width="0.9"/>
<line x1="961.07" y1="226.4" x2="961.07" y2="255.4" stroke="#2a2e39" stroke-width="1"/>
<rect x="958.47" y="236.3" width="5.2" height="4.9" fill="#1a9176" stroke="#0f3d33" stroke-width="0.9"/>
<line x1="968.84" y1="199.7" x2="968.84" y2="248.0" stroke="#2a2e39" stroke-width="1"/>
<rect x="966.24" y="236.3" width="5.2" height="5.8" fill="#e5445a" stroke="#3d1218" stroke-width="0.9"/>
<line x1="976.61" y1="227.2" x2="976.61" y2="271.7" stroke="#2a2e39" stroke-width="1"/>
<rect x="973.61" y="240.7" width="6" height="1.2" fill="#2a2e39"/>
<line x1="984.38" y1="216.2" x2="984.38" y2="249.7" stroke="#2a2e39" stroke-width="1"/>
<rect x="981.77" y="241.2" width="5.2" height="5.7" fill="#e5445a" stroke="#3d1218" stroke-width="0.9"/>
<line x1="992.14" y1="245.9" x2="992.14" y2="288.7" stroke="#2a2e39" stroke-width="1"/>
<rect x="989.54" y="247.6" width="5.2" height="37.5" fill="#e5445a" stroke="#3d1218" stroke-width="0.9"/>
<line x1="999.91" y1="262.9" x2="999.91" y2="329.1" stroke="#2a2e39" stroke-width="1"/>
<rect x="997.31" y="285.4" width="5.2" height="37.0" fill="#e5445a" stroke="#3d1218" stroke-width="0.9"/>
<line x1="1007.68" y1="292.1" x2="1007.68" y2="346.4" stroke="#2a2e39" stroke-width="1"/>
<rect x="1005.08" y="307.1" width="5.2" height="15.3" fill="#1a9176" stroke="#0f3d33" stroke-width="0.9"/>
<line x1="1015.44" y1="293.5" x2="1015.44" y2="323.8" stroke="#2a2e39" stroke-width="1"/>
<rect x="1012.84" y="301.2" width="5.2" height="5.5" fill="#1a9176" stroke="#0f3d33" stroke-width="0.9"/>
<line x1="1023.21" y1="300.0" x2="1023.21" y2="329.1" stroke="#2a2e39" stroke-width="1"/>
<rect x="1020.61" y="301.8" width="5.2" height="17.6" fill="#e5445a" stroke="#3d1218" stroke-width="0.9"/>
<line x1="1030.98" y1="294.7" x2="1030.98" y2="320.3" stroke="#2a2e39" stroke-width="1"/>
<rect x="1028.38" y="302.3" width="5.2" height="17.1" fill="#1a9176" stroke="#0f3d33" stroke-width="0.9"/>
<line x1="1038.74" y1="287.1" x2="1038.74" y2="303.0" stroke="#2a2e39" stroke-width="1"/>
<rect x="1036.14" y="296.5" width="5.2" height="5.8" fill="#1a9176" stroke="#0f3d33" stroke-width="0.9"/>
<line x1="1046.51" y1="295.4" x2="1046.51" y2="318.2" stroke="#2a2e39" stroke-width="1"/>
<rect x="1043.91" y="296.2" width="5.2" height="12.4" fill="#e5445a" stroke="#3d1218" stroke-width="0.9"/>
<line x1="1054.28" y1="283.4" x2="1054.28" y2="312.0" stroke="#2a2e39" stroke-width="1"/>
<rect x="1051.68" y="297.2" width="5.2" height="11.4" fill="#1a9176" stroke="#0f3d33" stroke-width="0.9"/>
<line x1="1062.05" y1="297.0" x2="1062.05" y2="324.4" stroke="#2a2e39" stroke-width="1"/>
<rect x="1059.45" y="297.5" width="5.2" height="11.8" fill="#e5445a" stroke="#3d1218" stroke-width="0.9"/>
<line x1="1069.81" y1="287.3" x2="1069.81" y2="312.7" stroke="#2a2e39" stroke-width="1"/>
<rect x="1067.21" y="288.3" width="5.2" height="21.0" fill="#1a9176" stroke="#0f3d33" stroke-width="0.9"/>
<line x1="1077.58" y1="285.8" x2="1077.58" y2="308.6" stroke="#2a2e39" stroke-width="1"/>
<rect x="1074.98" y="288.3" width="5.2" height="3.3" fill="#e5445a" stroke="#3d1218" stroke-width="0.9"/>
<line x1="1085.35" y1="289.2" x2="1085.35" y2="304.6" stroke="#2a2e39" stroke-width="1"/>
<rect x="1082.75" y="292.3" width="5.2" height="12.1" fill="#e5445a" stroke="#3d1218" stroke-width="0.9"/>
<line x1="1093.11" y1="297.8" x2="1093.11" y2="306.5" stroke="#2a2e39" stroke-width="1"/>
<rect x="1090.51" y="302.4" width="5.2" height="2.5" fill="#1a9176" stroke="#0f3d33" stroke-width="0.9"/>
<line x1="1100.88" y1="296.2" x2="1100.88" y2="303.3" stroke="#2a2e39" stroke-width="1"/>
<rect x="1098.28" y="297.2" width="5.2" height="5.2" fill="#1a9176" stroke="#0f3d33" stroke-width="0.9"/>
<circle cx="1101" cy="499" r="8.4" fill="none" stroke="#8c3a9e" stroke-width="1.4"/>
<path d="M1103.6,494.3 L1098.6,499.2 L1103,499 L1098.4,503.6" fill="none" stroke="#8c3a9e" stroke-width="1.5" stroke-linejoin="round" stroke-linecap="round"/>
<g transform="translate(8.8,543.8) scale(0.479)" fill="#131722"><path d="M14 22H7V11H0V4h14v18zM28 22h-8l7.5-18h8L28 22z"/><circle cx="20" cy="8" r="4"/></g>
</svg>
<div style="position:absolute;left:1131.5px;top:27.5px;width:55px;height:22px;border:1px solid #f0f1f4;border-radius:5px;box-sizing:border-box"></div>
<div style="position:absolute;left:1139px;top:32px;font-size:10.8px;line-height:14px;color:#131722">USDT</div>
<div class="pl" style="top:55.7px">150.00</div><div class="pl" style="top:89.0px">140.00</div><div class="pl" style="top:124.8px">130.00</div><div class="pl" style="top:155.5px">122.00</div><div class="pl" style="top:188.3px">114.00</div><div class="pl" style="top:223.5px">106.00</div><div class="pl" style="top:333.0px">84.50</div><div class="pl" style="top:368.6px">78.50</div><div class="pl" style="top:407.0px">72.50</div><div class="pl" style="top:434.4px">68.50</div><div class="pl" style="top:463.5px">64.50</div><div class="pl" style="top:490.5px">61.00</div>
<div class="box" style="top:208px;width:48.5px;height:14.5px;background:#2962ff">109.41</div>
<div class="box" style="top:259.8px;width:41.6px;height:14.5px;background:#4caf50">97.84</div>
<div class="box" style="top:274.3px;width:41.6px;height:15px;background:#f23645">95.04</div>
<div class="box" style="top:290px;width:58.6px;height:26.7px;background:#089981;border-radius:0 0 3px 0;line-height:12.5px;padding-top:1px">92.33<br>11:31:48</div>
<div class="tl" style="left:231px">Dec</div>
<div class="tl" style="left:472.5px;font-weight:bold;letter-spacing:0.9px">2025</div>
<div class="tl" style="left:712.7px">Feb</div>
<div class="tl" style="left:930px">Mar</div>
<div style="position:absolute;left:30.4px;top:544px;font-size:11.8px;line-height:14px;color:#131722">TradingView</div>
</body></html>
